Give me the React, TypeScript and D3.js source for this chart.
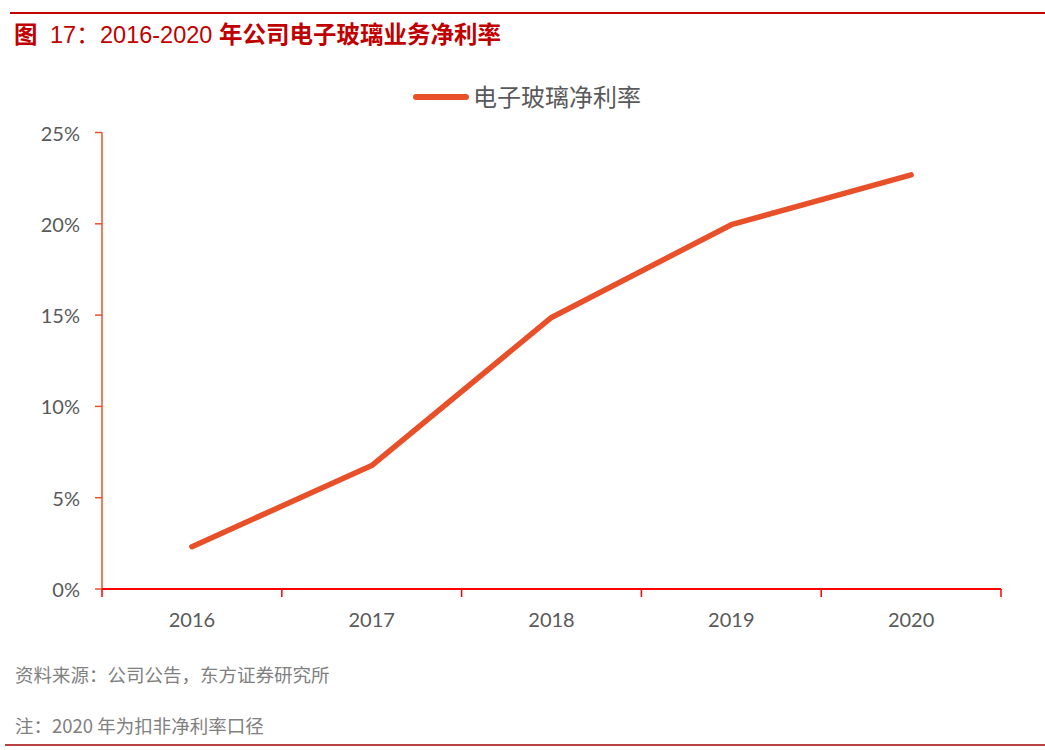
import React from "react";
import * as d3 from "d3";

const years = ["2016", "2017", "2018", "2019", "2020"];
const netMargin = [0.0232, 0.0676, 0.1487, 0.1995, 0.2268];
const yTicks = [0, 0.05, 0.1, 0.15, 0.2, 0.25];
const seriesName = "电子玻璃净利率";
const titleParts = ["图", "17：", "2016-2020", "年公司电子玻璃业务净利率"];
const sourceText = "资料来源：公司公告，东方证券研究所";
const noteText = "注：2020 年为扣非净利率口径";

const W = 1045;
const H = 750;
const LINE = "#E8502A";
const AXIS_X = "#FF0000";
const TEXT = "#595959";
const CJK = "'Noto Sans CJK SC', 'Noto Sans', sans-serif";
const LAT = "'Liberation Sans', Arial, 'Noto Sans CJK SC', sans-serif";
const NUM = "Lato, 'Noto Sans', sans-serif";

export default function App() {
  const x = d3.scaleBand<string>().domain(years).range([102, 1001]).padding(0);
  const y = d3.scaleLinear().domain([0, 0.25]).range([589, 132.5]);
  const line = d3
    .line<number>()
    .x((_, i) => (x(years[i]) as number) + x.bandwidth() / 2)
    .y((d) => y(d));
  const boundaries = years.map((yr) => x(yr) as number).concat([x.range()[1]]);

  return (
    <svg
      width={W}
      height={H}
      style={{ position: "absolute", left: 0, top: 0, background: "#fff" }}
    >
      <rect width={W} height={H} fill="#fff" />
      {/* top rule */}
      <line x1={10} x2={W} y1={13} y2={13} stroke="#C00000" strokeWidth={2} />
      {/* title */}
      <text y={43} fontSize={23.5} fill="#C00000" fontFamily={CJK}>
        <tspan x={14} fontWeight="bold">{titleParts[0]}</tspan>
        <tspan x={50} fontFamily={LAT}>{titleParts[1]}</tspan>
        <tspan x={100} fontFamily={LAT}>{titleParts[2]}</tspan>
        <tspan x={219} fontWeight="bold">{titleParts[3]}</tspan>
      </text>

      {/* legend */}
      <line x1={416} x2={466} y1={97} y2={97} stroke={LINE} strokeWidth={6} strokeLinecap="round" />
      <text x={473} y={95} fontSize={24} fill={TEXT} fontFamily={CJK} dominantBaseline="central">
        {seriesName}
      </text>

      {/* y axis */}
      <line x1={102} x2={102} y1={y(0.25)} y2={y(0)} stroke={LINE} strokeWidth={1.5} />
      {yTicks.map((t) => (
        <g key={t}>
          <line x1={95} x2={102} y1={y(t)} y2={y(t)} stroke={LINE} strokeWidth={1.5} />
          <text
            x={80}
            y={y(t)}
            textAnchor="end"
            dominantBaseline="central"
            fontSize={20}
            fill={TEXT}
            fontFamily={NUM}
          >
            {d3.format(".0%")(t)}
          </text>
        </g>
      ))}

      {/* x axis */}
      <line x1={x.range()[0]} x2={x.range()[1]} y1={y(0)} y2={y(0)} stroke={AXIS_X} strokeWidth={2} />
      {boundaries.map((b, i) => (
        <line key={i} x1={b} x2={b} y1={y(0)} y2={y(0) + 8} stroke={AXIS_X} strokeWidth={1.5} />
      ))}
      {years.map((yr) => (
        <text
          key={yr}
          x={(x(yr) as number) + x.bandwidth() / 2}
          y={627}
          textAnchor="middle"
          fontSize={20}
          fill={TEXT}
          fontFamily={NUM}
        >
          {yr}
        </text>
      ))}

      {/* series */}
      <path
        d={line(netMargin) || ""}
        fill="none"
        stroke={LINE}
        strokeWidth={5.5}
        strokeLinecap="round"
        strokeLinejoin="round"
      />

      {/* footer */}
      <text x={15} y={682} fontSize={18.5} fill="#808080" fontFamily={CJK}>
        {sourceText}
      </text>
      <text x={15} y={733} fontSize={18.5} fill="#808080" fontFamily={CJK}>
        {noteText}
      </text>
      <line x1={5} x2={W} y1={745} y2={745} stroke="#A00000" strokeWidth={1.5} />
    </svg>
  );
}
